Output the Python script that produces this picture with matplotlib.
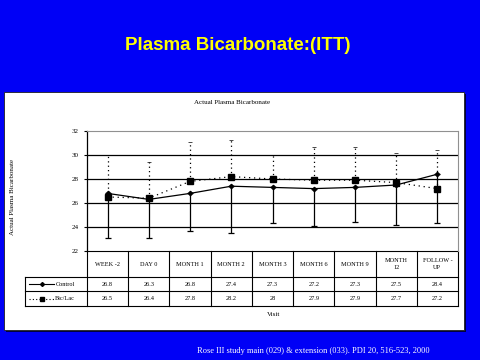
import numpy as np
import matplotlib.pyplot as plt
from matplotlib.patches import Rectangle
import matplotlib.transforms as mtransforms

visits = ["WEEK -2", "DAY 0", "MONTH 1", "MONTH 2", "MONTH 3", "MONTH 6", "MONTH 9", "MONTH\n12", "FOLLOW -\nUP"]
control = [26.8, 26.3, 26.8, 27.4, 27.3, 27.2, 27.3, 27.5, 28.4]
biclac = [26.5, 26.4, 27.8, 28.2, 28.0, 27.9, 27.9, 27.7, 27.2]
control_low = [23.1, 23.1, 23.7, 23.5, 24.3, 24.1, 24.4, 24.2, 24.3]
biclac_high = [30.0, 29.4, 31.1, 31.25, 30.0, 30.7, 30.7, 30.2, 30.4]
yticks = [22, 24, 26, 28, 30, 32]

BLUE = "#0000f6"
W, H = 480, 360

fig = plt.figure(figsize=(4.8, 3.6), dpi=100, facecolor=BLUE)

# white slide panel with dark edge
fig.patches.append(Rectangle((6 / W, 1 - 332 / H), 460 / W, 238 / H, transform=fig.transFigure,
                             facecolor="#000040", edgecolor="none", zorder=-2))
fig.patches.append(Rectangle((4 / W, 1 - 330 / H), 460 / W, 238 / H, transform=fig.transFigure,
                             facecolor="white", edgecolor="#202020", lw=0.6, zorder=-1))

fig.text(238 / W, 1 - 46 / H, "Plasma Bicarbonate:(ITT)", color="#ffff00", ha="center", va="center",
         fontsize=13.5, fontweight="bold", family=["Liberation Sans", "DejaVu Sans"])
fig.text(197 / W, 1 - 351 / H, "Rose III study main (029) & extension (033). PDI 20, 516-523, 2000",
         color="white", ha="left", va="center", fontsize=6, family=["Liberation Serif", "DejaVu Serif"])
fig.text(232 / W, 1 - 102 / H, "Actual Plasma Bicarbonate", ha="center", va="center",
         fontsize=5, family="Liberation Serif")

ax = fig.add_axes([87 / W, 1 - 251 / H, 371 / W, 120 / H])
ax.set_zorder(2)
ax.set_facecolor("white")
x = np.arange(len(visits))
ax.set_xlim(-0.5, len(visits) - 0.5)
ax.set_ylim(22, 32)
ax.set_yticks(yticks)
ax.set_yticklabels([str(v) for v in yticks], fontsize=5, family="Liberation Serif")
ax.set_xticks([])
ax.tick_params(axis="y", length=2, width=0.8, pad=4)
for v in yticks[1:-1]:
    ax.axhline(v, color="black", lw=0.9, zorder=1)
ax.spines["top"].set_color("#909090")
ax.spines["right"].set_color("#909090")
ax.spines["bottom"].set_visible(False)
ax.spines["left"].set_linewidth(0.9)
ax.set_ylabel("Actual Plasma Bicarbonate", fontsize=5, family="Liberation Serif")
ax.yaxis.set_label_coords(-72 / 371, 0.45)

c_err = [np.array(control) - np.array(control_low), np.zeros(len(x))]
b_err = [np.zeros(len(x)), np.array(biclac_high) - np.array(biclac)]

ax.errorbar(x, control, yerr=c_err, color="black", lw=0.9, marker="D", ms=2.2,
            capsize=2.5, capthick=0.9, elinewidth=0.9, zorder=3)
eb = ax.errorbar(x, biclac, yerr=b_err, color="black", lw=0.9, ls=(0, (1, 3)), marker="s", ms=4,
                 capsize=1.5, capthick=0.5, elinewidth=0.9, zorder=3)
eb[2][0].set_linestyle((0, (1, 2.5)))

# data table under the plot
trans = mtransforms.blended_transform_factory(ax.transData, ax.transAxes)
rows = [0, -26 / 120, -40 / 120, -55 / 120]
lk = dict(color="black", lw=0.8, transform=trans, clip_on=False)
ax.plot([-0.5, len(visits) - 0.5], [rows[0]] * 2, **lk)
for r in rows[1:]:
    ax.plot([-2.0, len(visits) - 0.5], [r] * 2, **lk)
for i in range(len(visits) + 1):
    ax.plot([i - 0.5] * 2, [rows[0], rows[3]], **lk)
ax.plot([-2.0] * 2, [rows[1], rows[3]], **lk)

tk = dict(transform=trans, ha="center", va="center", fontsize=4.5, family="Liberation Serif", clip_on=False)
for i, lab in enumerate(visits):
    ax.text(i, (rows[0] + rows[1]) / 2, lab, linespacing=1.6, **tk)
    ax.text(i, (rows[1] + rows[2]) / 2, f"{control[i]:g}", **tk)
    ax.text(i, (rows[2] + rows[3]) / 2, f"{biclac[i]:g}", **tk)

# legend keys in the table
ym1 = (rows[1] + rows[2]) / 2
ym2 = (rows[2] + rows[3]) / 2
ax.plot([-1.9, -1.3], [ym1] * 2, color="black", lw=0.8, transform=trans, clip_on=False)
ax.plot([-1.6], [ym1], marker="D", ms=2, color="black", transform=trans, clip_on=False)
ax.plot([-1.9, -1.3], [ym2] * 2, color="black", lw=0.8, ls=(0, (1, 2)), transform=trans, clip_on=False)
ax.plot([-1.6], [ym2], marker="s", ms=2.5, color="black", transform=trans, clip_on=False)
ax.text(-1.27, ym1, "Control", transform=trans, ha="left", va="center", fontsize=4.5,
        family="Liberation Serif", clip_on=False)
ax.text(-1.27, ym2, "Bic/Lac", transform=trans, ha="left", va="center", fontsize=4.5,
        family="Liberation Serif", clip_on=False)

fig.text(274 / W, 1 - 314 / H, "Visit", ha="center", va="center", fontsize=5, family="Liberation Serif")

fig.savefig("out.png", dpi=100, facecolor=BLUE)
